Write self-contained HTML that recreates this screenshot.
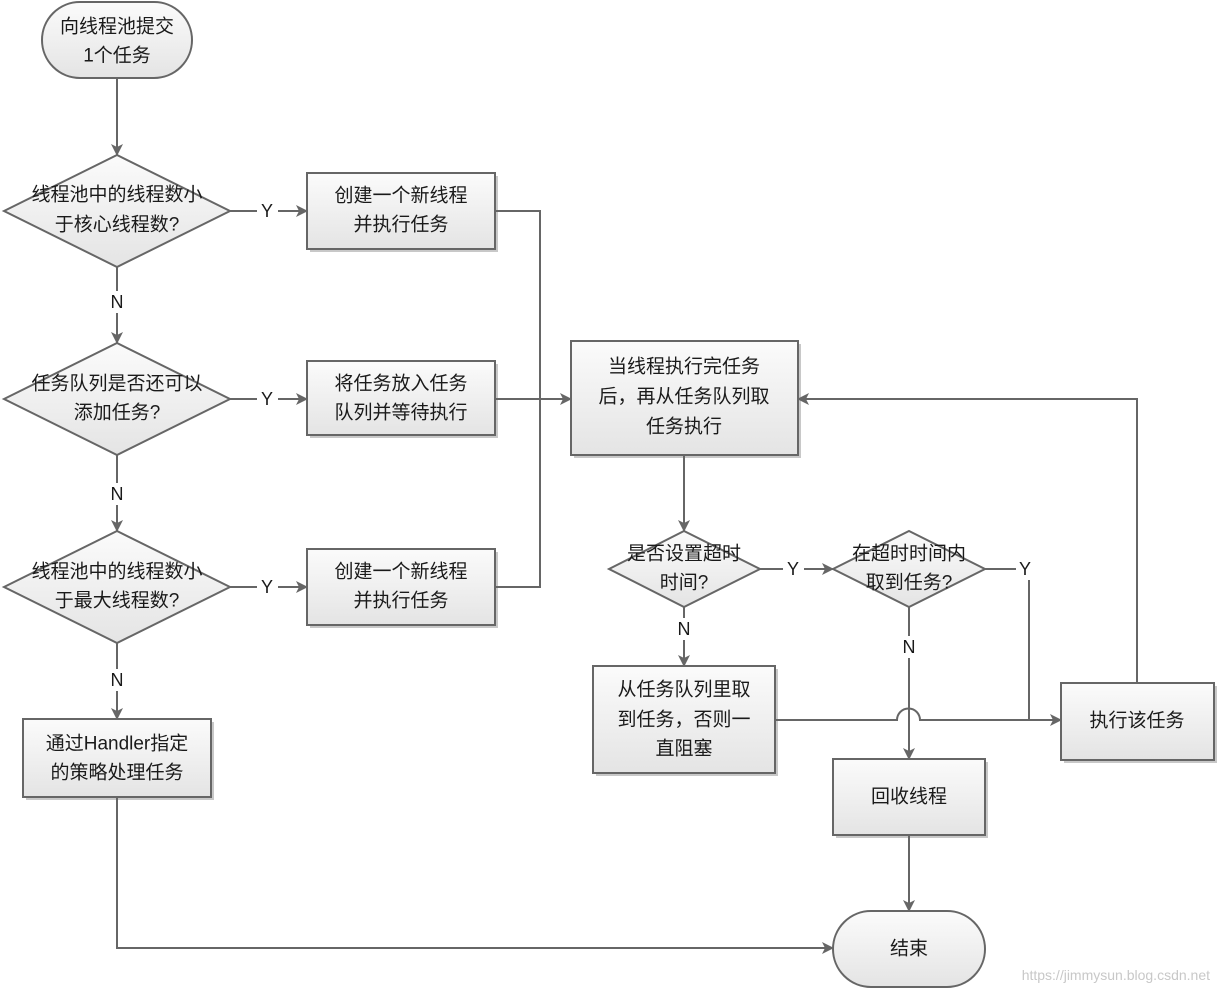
<!DOCTYPE html>
<html><head><meta charset="utf-8"><style>
html,body{margin:0;padding:0;background:#fff;}
svg{display:block;}
text{font-family:"Liberation Sans","Noto Sans CJK SC",sans-serif;font-size:19px;fill:#1a1a1a;text-anchor:middle;dominant-baseline:central;}
.l{font-size:18px;}
</style></head><body>
<svg width="1220" height="994" viewBox="0 0 1220 994" xmlns="http://www.w3.org/2000/svg">
<defs>
<linearGradient id="g" x1="0" y1="0" x2="0" y2="1"><stop offset="0" stop-color="#fbfbfb"/><stop offset="1" stop-color="#e4e4e4"/></linearGradient>
<marker id="a" markerWidth="12" markerHeight="12" refX="11" refY="6" orient="auto" markerUnits="userSpaceOnUse"><path d="M0,0 L12,6 L0,12 L3,6 Z" fill="#666"/></marker>
</defs>
<g fill="#c8c8c8" stroke="none">
<rect x="310" y="176" width="188" height="76"/><rect x="310" y="364" width="188" height="74"/><rect x="310" y="552" width="188" height="76"/>
<rect x="26" y="722" width="188" height="78"/><rect x="574" y="344" width="227" height="114"/><rect x="596" y="669" width="182" height="107"/>
<rect x="1064" y="686" width="153" height="77"/><rect x="836" y="762" width="152" height="76"/>
</g>
<g fill="url(#g)" stroke="#666" stroke-width="2">
<rect x="42" y="2" width="150" height="76" rx="38"/>
<polygon points="4,211 117,155 230,211 117,267"/>
<polygon points="4,399 117,343 230,399 117,455"/>
<polygon points="4,587 117,531 230,587 117,643"/>
<rect x="307" y="173" width="188" height="76"/>
<rect x="307" y="361" width="188" height="74"/>
<rect x="307" y="549" width="188" height="76"/>
<rect x="23" y="719" width="188" height="78"/>
<rect x="571" y="341" width="227" height="114"/>
<polygon points="609,569 684,531 760,569 684,607"/>
<polygon points="833,569 909,531 985,569 909,607"/>
<rect x="593" y="666" width="182" height="107"/>
<rect x="1061" y="683" width="153" height="77"/>
<rect x="833" y="759" width="152" height="76"/>
<rect x="833" y="911" width="152" height="76" rx="38"/>
</g>
<g fill="none" stroke="#666" stroke-width="2">
<path d="M117,78 V155" marker-end="url(#a)"/>
<path d="M230,211 H257 M278,211 H307" marker-end="url(#a)"/>
<path d="M230,399 H257 M278,399 H307" marker-end="url(#a)"/>
<path d="M230,587 H257 M278,587 H307" marker-end="url(#a)"/>
<path d="M117,267 V291 M117,313 V343" marker-end="url(#a)"/>
<path d="M117,455 V483 M117,505 V531" marker-end="url(#a)"/>
<path d="M117,643 V669 M117,691 V719" marker-end="url(#a)"/>
<path d="M117,797 V948 H833" marker-end="url(#a)"/>
<path d="M495,211 H540 V587 H495"/>
<path d="M495,399 H571" marker-end="url(#a)"/>
<path d="M684,455 V531" marker-end="url(#a)"/>
<path d="M760,569 H783 M804,569 H833" marker-end="url(#a)"/>
<path d="M985,569 H1016 M1029,580 V720"/>
<path d="M684,607 V618 M684,640 V666" marker-end="url(#a)"/>
<path d="M909,607 V636 M909,658 V759" marker-end="url(#a)"/>
<path d="M775,720 H897 A11,11 0 0 1 920,720 H1061" marker-end="url(#a)"/>
<path d="M1137,683 V399 H798" marker-end="url(#a)"/>
<path d="M909,835 V911" marker-end="url(#a)"/>
</g>
<g>
<text x="117" y="27">向线程池提交</text><text x="117" y="56">1个任务</text>
<text x="117" y="195">线程池中的线程数小</text><text x="117" y="225">于核心线程数?</text>
<text x="401" y="196">创建一个新线程</text><text x="401" y="225">并执行任务</text>
<text x="117" y="384">任务队列是否还可以</text><text x="117" y="413">添加任务?</text>
<text x="401" y="384">将任务放入任务</text><text x="401" y="413">队列并等待执行</text>
<text x="117" y="572">线程池中的线程数小</text><text x="117" y="601">于最大线程数?</text>
<text x="401" y="572">创建一个新线程</text><text x="401" y="601">并执行任务</text>
<text x="117" y="744">通过Handler指定</text><text x="117" y="773">的策略处理任务</text>
<text x="684" y="367">当线程执行完任务</text><text x="684" y="397">后，再从任务队列取</text><text x="684" y="427">任务执行</text>
<text x="684" y="554">是否设置超时</text><text x="684" y="583">时间?</text>
<text x="909" y="554">在超时时间内</text><text x="909" y="583">取到任务?</text>
<text x="684" y="690">从任务队列里取</text><text x="684" y="720">到任务，否则一</text><text x="684" y="749">直阻塞</text>
<text x="1137" y="721">执行该任务</text>
<text x="909" y="797">回收线程</text>
<text x="909" y="949">结束</text>
<text class="l" x="267" y="211">Y</text><text class="l" x="267" y="399">Y</text><text class="l" x="267" y="587">Y</text>
<text class="l" x="117" y="302">N</text><text class="l" x="117" y="494">N</text><text class="l" x="117" y="680">N</text>
<text class="l" x="793" y="569">Y</text><text class="l" x="1025" y="569">Y</text>
<text class="l" x="684" y="629">N</text><text class="l" x="909" y="647">N</text>
<text x="1210" y="975" style="font-size:14px;fill:#c8c8c8;text-anchor:end;">https://jimmysun.blog.csdn.net</text>
</g>
</svg>
</body></html>
